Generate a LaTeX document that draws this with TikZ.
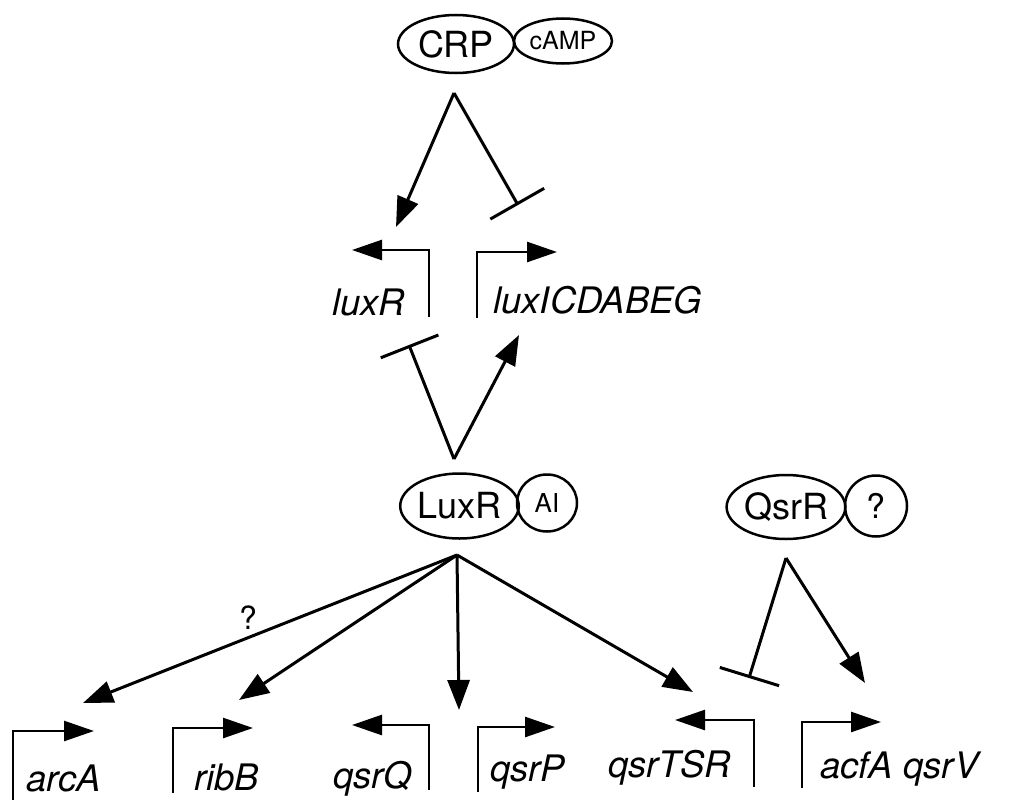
\documentclass[tikz,border=0pt]{standalone}
\usepackage{fontspec}
\setmainfont{TeX Gyre Heros}
\usetikzlibrary{arrows.meta,shapes.geometric}
\begin{document}
\begin{tikzpicture}[x=1pt,y=-1pt,
  act/.style={line width=3pt,-{Triangle[length=30pt,width=22pt]}},
  inh/.style={line width=3pt,-{Bar[width=62pt]}},
  prom/.style={line width=2.6pt,-{Triangle[length=30pt,width=20pt]}},
  prot/.style={ellipse,draw,line width=2.5pt,inner sep=0pt},
  gene/.style={font=\fontsize{36.5}{40}\selectfont\itshape,inner sep=0pt,anchor=base west},
  big/.style={font=\fontsize{36}{40}\selectfont},
  small/.style={font=\fontsize{25}{28}\selectfont}]
\useasboundingbox (0,0) rectangle (1009,800);
% proteins
\node[prot,big,minimum width=116pt,minimum height=58pt] (crp) at (456,44) {CRP};
\node[prot,small,minimum width=98pt,minimum height=45pt] (camp) at (563,41) {cAMP};
\node[prot,big,minimum width=115pt,minimum height=65pt] (luxr) at (459.5,506) {LuxR};
\node[prot,font=\fontsize{26}{28}\selectfont,minimum width=60pt,minimum height=57pt] (ai) at (547,503) {AI};
\node[prot,big,minimum width=118pt,minimum height=64pt] (qsrr) at (786,507) {QsrR};
\node[prot,font=\fontsize{34}{38}\selectfont,minimum width=62pt,minimum height=61pt] (qm) at (876,506) {?};
% apex coordinates
\coordinate (crpA) at (454,93);
\coordinate (luxA) at (454,459);
\coordinate (luxB) at (457,555);
\coordinate (qsrA) at (786,558);
% targets
\coordinate (tLuxR) at (396,227);
\coordinate (tLuxI) at (518,205);
\coordinate (iLuxR) at (409,345);
\coordinate (aLuxI) at (519,335);
\coordinate (tArc) at (83,703);
\coordinate (tRib) at (239,700);
\coordinate (tQP) at (459,710);
\coordinate (tTSR) at (693,692);
\coordinate (iTSR) at (749,678);
\coordinate (tAcf) at (865,683);
% genes
\node[gene] (gLuxR) at (332,315) {luxR};
\node[gene] (gLuxI) at (493,313) {luxICDABEG};
\node[gene] (gArc) at (26,791) {arcA};
\node[gene] (gRib) at (194,790) {ribB};
\node[gene] (gQ) at (333,788) {qsrQ};
\node[gene] (gP) at (490,781) {qsrP};
\node[gene] (gTSR) at (608,777) {qsrTSR};
\node[gene] (gAcf) at (820,778) {acfA qsrV};
% promoters
\draw[prom] (429,317) -- (429,250) -- (352,250);
\draw[prom] (477,318) -- (477,252) -- (557,252);
\draw[prom] (13,800) -- (13,731) -- (94,731);
\draw[prom] (173,793) -- (173,728) -- (253,728);
\draw[prom] (429,790) -- (429,725) -- (352,725);
\draw[prom] (478,792) -- (478,727) -- (555,727);
\draw[prom] (754,787) -- (754,720) -- (675,720);
\draw[prom] (802,788) -- (802,722) -- (881,722);
% regulation
\draw[act] (crpA) -- (tLuxR);
\draw[inh] (crpA) -- (tLuxI);
\draw[inh] (luxA) -- (iLuxR);
\draw[act] (luxA) -- (aLuxI);
\draw[act] (luxB) -- (tArc);
\draw[act] (luxB) -- (tRib);
\draw[act] (luxB) -- (tQP);
\draw[act] (luxB) -- (tTSR);
\draw[inh] (qsrA) -- (iTSR);
\draw[act] (qsrA) -- (tAcf);
\node[font=\fontsize{32}{34}\selectfont] (q1) at (248,618) {?};
\end{tikzpicture}
\end{document}
